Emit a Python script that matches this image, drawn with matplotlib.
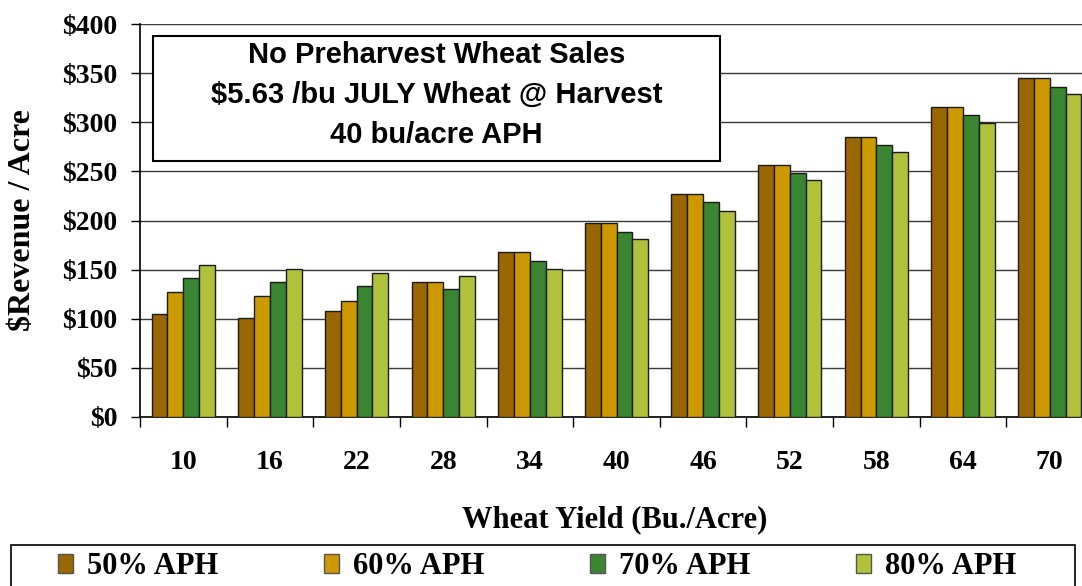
import numpy as np
import matplotlib
matplotlib.use("Agg")
import matplotlib.pyplot as plt
from matplotlib.patches import Rectangle

# 数据：小麦产量（蒲式耳/英亩）与不同APH保障水平下的每英亩收入
yields = ["10", "16", "22", "28", "34", "40", "46", "52", "58", "64", "70"]
aph_50 = [105, 101, 108, 137, 168, 197, 227, 256, 285, 316, 345]
aph_60 = [127, 123, 118, 137, 168, 197, 227, 256, 285, 316, 345]
aph_70 = [141, 137, 133, 130, 159, 188, 219, 248, 277, 307, 336]
aph_80 = [155, 151, 147, 144, 151, 181, 210, 241, 270, 299, 329]
series_labels = ["50% APH", "60% APH", "70% APH", "80% APH"]
colors = ["#996600", "#CC9900", "#3A8531", "#B1C13C"]
y_ticks = [0, 50, 100, 150, 200, 250, 300, 350, 400]
title_lines = ["No Preharvest Wheat Sales",
               "$5.63 /bu JULY Wheat @ Harvest",
               "40 bu/acre APH"]

W, H = 1082, 586
fig = plt.figure(figsize=(W / 100, H / 100), dpi=100)
serif = "Liberation Serif"
sans = "Liberation Sans"

# 坐标轴位置（按像素换算）
ax_l, ax_r, ax_t, ax_b = 140, 1093, 24, 417
ax = fig.add_axes([ax_l / W, 1 - ax_b / H, (ax_r - ax_l) / W, (ax_b - ax_t) / H])

x = np.arange(len(yields))
bw = 0.183
offsets = np.array([-1.5, -0.5, 0.5, 1.5]) * bw
for vals, off, c, lab in zip([aph_50, aph_60, aph_70, aph_80], offsets, colors, series_labels):
    ax.bar(x + off, vals, width=bw, color=c, edgecolor="#1a1a1a", linewidth=1.0,
           label=lab, zorder=3)

ax.set_xlim(-0.5, len(yields) - 0.5)
ax.set_ylim(0, 400)
ax.set_yticks(y_ticks)
ax.set_yticklabels(["$%d" % v for v in y_ticks], fontfamily=serif,
                   fontweight="bold", fontsize=20)
ax.yaxis.grid(True, color="#3a3a3a", linewidth=1.0, zorder=0)
ax.set_axisbelow(True)

# 类别边界处的刻度线，标签放在中间
ax.set_xticks(np.arange(len(yields) + 1) - 0.5)
ax.set_xticklabels([])
ax.set_xticks(x, minor=True)
ax.set_xticklabels(yields, minor=True, fontfamily=serif, fontweight="bold", fontsize=20)
ax.tick_params(axis="x", which="minor", length=0, pad=24)
ax.tick_params(axis="x", which="major", length=7, width=1, direction="out")
ax.tick_params(axis="y", length=6.5, width=1, direction="out", pad=10)
for s in ["top", "right"]:
    ax.spines[s].set_visible(False)
ax.spines["left"].set_linewidth(1.2)
ax.spines["bottom"].set_linewidth(1.2)

fig.text(23 / W, 1 - 220 / H, "$Revenue / Acre", rotation=90, ha="center", va="center",
         fontfamily=serif, fontweight="bold", fontsize=23)
fig.text(615 / W, 1 - 520 / H, "Wheat Yield (Bu./Acre)", ha="center", va="center",
         fontfamily=serif, fontweight="bold", fontsize=22)

# 标题框
bx0, by0, bx1, by1 = 153, 36, 720, 161
fig.patches.append(Rectangle((bx0 / W, 1 - by1 / H), (bx1 - bx0) / W, (by1 - by0) / H,
                             transform=fig.transFigure, facecolor="white",
                             edgecolor="black", linewidth=1.5, zorder=5))
for i, line in enumerate(title_lines):
    fig.text((bx0 + bx1) / 2 / W, 1 - (55 + 40 * i) / H, line, ha="center", va="center",
             fontfamily=sans, fontweight="bold", fontsize=21, zorder=6)

# 图例框（底边在画面之外）
fig.patches.append(Rectangle((11 / W, -0.05), 1064 / W, 0.05 + 1 - 545 / H,
                             transform=fig.transFigure, facecolor="white",
                             edgecolor="black", linewidth=1.2, zorder=1))
leg = fig.legend(loc="center left", bbox_to_anchor=(58 / W, 1 - 567 / H),
                 ncol=4, frameon=False,
                 prop={"family": serif, "weight": "bold", "size": 22},
                 handlelength=0.5, handleheight=0.56, handletextpad=0.46,
                 columnspacing=3.45, borderpad=0, borderaxespad=0)
leg.set_zorder(2)
for h in leg.legend_handles:
    h.set_edgecolor("#555555")

fig.savefig("out.png", dpi=100)
